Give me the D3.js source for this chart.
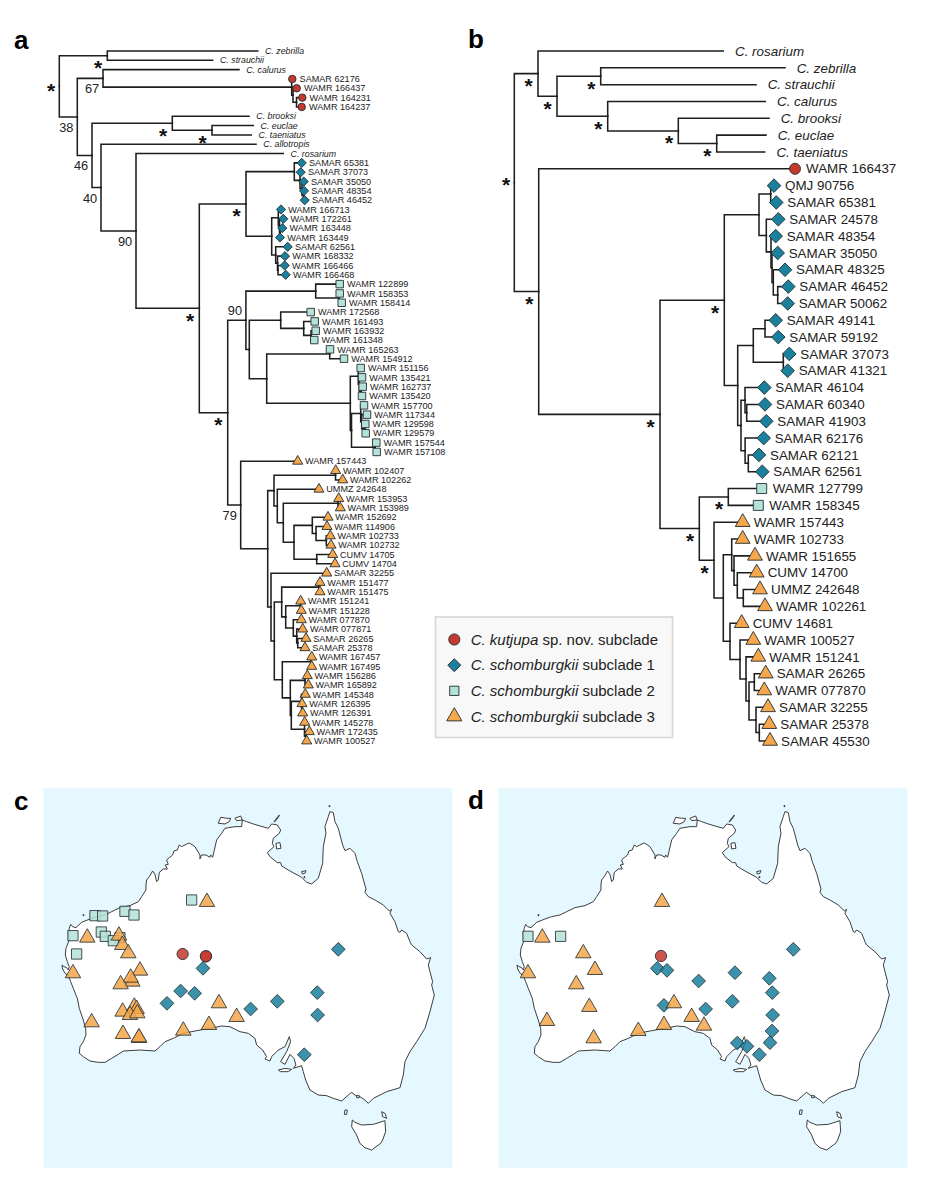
<!DOCTYPE html>
<html><head><meta charset="utf-8">
<script src="https://cdn.jsdelivr.net/npm/d3@7/dist/d3.min.js"></script>
<style>html,body{margin:0;padding:0;background:#fff}svg{display:block}text{font-family:"Liberation Sans",Arial,sans-serif;fill:#222}</style>
</head><body><svg id="fig" width="927" height="1200" viewBox="0 0 927 1200"></svg>
<script>
// ---------- DATA ----------
const labelsA = ["C. zebrilla","C. strauchii","C. calurus","SAMAR 62176","WAMR 166437","WAMR 164231","WAMR 164237","C. brooksi","C. euclae","C. taeniatus","C. allotropis","C. rosarium",
"SAMAR 65381","SAMAR 37073","SAMAR 35050","SAMAR 48354","SAMAR 46452","WAMR 166713","WAMR 172261","WAMR 163448","WAMR 163449","SAMAR 62561","WAMR 168332","WAMR 166466","WAMR 166468",
"WAMR 122899","WAMR 158353","WAMR 158414","WAMR 172568","WAMR 161493","WAMR 163932","WAMR 161348","WAMR 165263","WAMR 154912","WAMR 151156","WAMR 135421","WAMR 162737","WAMR 135420","WAMR 157700","WAMR 117344","WAMR 129598","WAMR 129579","WAMR 157544","WAMR 157108",
"WAMR 157443","WAMR 102407","WAMR 102262","UMMZ 242648","WAMR 153953","WAMR 153989","WAMR 152692","WAMR 114906","WAMR 102733","WAMR 102732","CUMV 14705","CUMV 14704","SAMAR 32255","WAMR 151477","WAMR 151475","WAMR 151241","WAMR 151228","WAMR 077870","WAMR 077871","SAMAR 26265","SAMAR 25378","WAMR 167457","WAMR 167495","WAMR 156286","WAMR 165892","WAMR 145348","WAMR 126395","WAMR 126391","WAMR 145278","WAMR 172435","WAMR 100527"];
const groupsA = "---kkkk-----1111111111111222222222222222222233333333333333333333333333333333".split("");
// nested clades: [node depth, child, child]; a bare number is a tip with its depth
const treeA = [59.3,
 [107.3,257.7,212.7],
 [77.3,
  [103,239,[291.7,292.3,[293,296.7,[296.5,302.3,301.7]]]],
  [92,
   [172.3,249,[212,253.3,251.3]],
   [101,256,
    [136,283.3,
     [199.3,
      [246,
       [294.3,301.7,[300,300.7,[302,303.7,[303.5,304,304.7]]]],
       [271.7,[278.3,281,[279.5,283.3,[280,282.3,280]]],[275.7,287.7,[277.5,285,[278,284.7,285.7]]]]],
      [227.7,
       [245.9,
        [315.7,339.7,[339,339.7,341.7]],
        [249.3,
         [280.7,310.7,[303.7,314.7,[311,315.7,314.3]]],
         [266.7,[329.7,330,344],
          [350.3,[358.3,360.7,[359.3,362,[361,362.7,362]]],
           [351.5,[360.7,364,[361.7,367,[365,365.3,365.7]]],[375,376.3,376.7]]]]]],
       [240.7,297.7,
        [267.7,
         [274,[335.5,335.7,342.7],
          [277.3,319,[283.3,[338,338.7,340.3],
           [294,[312.3,328,[316,327,[326.3,330.3,331]]],[316.7,332.7,335]]]]],
         [271,326.7,
          [274.3,
           [281.7,[319,320,320],[285.7,[300.5,300.7,301.3],[293.3,301.3,[296.7,302.7,[297.7,306,305]]]]],
           [282.3,[311,311.7,311.7],
            [290.3,[305,307.3,308.3],
             [291.3,[301.5,305.3,[302,302,302.7]],[304.5,304.7,[306,309.3,306.7]]]]]]]]]]]]]]]];
const supportA = [[59.3,"*"],[107.3,"*"],[172.3,"*"],[212,"*"],[246,"*"],[199.3,"*"],[227.7,"*"],[103,"67"],[77.3,"38"],[92,"46"],[101,"40"],[136,"90"],[245.9,"90"],[240.7,"79"]];

const labelsB = ["C. rosarium","C. zebrilla","C. strauchii","C. calurus","C. brooksi","C. euclae","C. taeniatus","WAMR 166437",
"QMJ 90756","SAMAR 65381","SAMAR 24578","SAMAR 48354","SAMAR 35050","SAMAR 48325","SAMAR 46452","SAMAR 50062","SAMAR 49141","SAMAR 59192","SAMAR 37073","SAMAR 41321","SAMAR 46104","SAMAR 60340","SAMAR 41903","SAMAR 62176","SAMAR 62121","SAMAR 62561",
"WAMR 127799","WAMR 158345","WAMR 157443","WAMR 102733","WAMR 151655","CUMV 14700","UMMZ 242648","WAMR 102261","CUMV 14681","WAMR 100527","WAMR 151241","SAMAR 26265","WAMR 077870","SAMAR 32255","SAMAR 25378","SAMAR 45530"];
const groupsB = "-------k1111111111111111112233333333333333".split("");
const treeB = [514.3,
 [538,723.3,[557,[600.7,785,756],[607.7,765.3,[678.3,769,[716.7,766,764.7]]]]],
 [538.7,795,
  [660,
   [724.3,
    [759,[770.7,774,776.3],[766.3,778.3,[771,775.7,[772,777.7,[773.3,785,[777.7,788.3,787.7]]]]]],
    [737.7,[753.3,[765,775.7,778.3],[783.3,789.3,787.7]],
     [741,[745,764.3,[746.7,765,766.3]],[745.1,763.7,[748.3,759,762.3]]]]],
   [699.3,[728.3,761.7,758.3],
    [714,742.7,
     [723.3,
      [731.7,742.7,[734,755,[737.3,756.7,[743.3,760,765]]]],
      [730,741.7,[740,753.3,[746,758.3,[749,[754.3,765.7,764.3],[756,768,[759.3,769.3,770]]]]]]]]]]]];
const supportB = [514.3,538,600.7,557,607.7,678.3,716.7,538.7,724.3,660,728.3,699.3,714];

const legendLabels = [["C. kutjupa"," sp. nov. subclade"],["C. schomburgkii"," subclade 1"],["C. schomburgkii"," subclade 2"],["C. schomburgkii"," subclade 3"]];
const legendGroups = ["k","1","2","3"];

// map grid readings (easting, northing) shared by both maps
const coast = [[318,315],[305,335],[295,350],[270,362],[240,368],[215,380],[195,390],[170,395],[150,402],[125,412],[108,428],[98,425],[92,418],[88,430],[85,445],[88,465],[78,490],[76,510],[82,530],[88,545],[85,555],[80,548],[72,545],[66,540],[68,552],[76,566],[85,570],[92,590],[100,610],[112,640],[118,670],[130,705],[137,730],[138,750],[130,770],[120,785],[118,805],[130,815],[150,828],[175,832],[195,832],[215,820],[235,808],[250,798],[300,795],[345,798],[360,785],[375,770],[400,760],[430,745],[470,737],[510,730],[545,723],[570,725],[600,740],[625,745],[645,760],[650,780],[668,795],[680,815],[675,822],[690,828],[695,815],[715,795],[735,785],[748,755],[752,770],[740,800],[722,830],[735,838],[750,808],[762,820],[768,840],[760,850],[785,842],[790,860],[797,885],[810,915],[835,930],[860,932],[880,940],[905,948],[925,930],[935,922],[948,932],[960,935],[975,945],[985,955],[1000,940],[1040,920],[1080,908],[1090,870],[1095,830],[1110,800],[1130,770],[1155,730],[1170,680],[1183,630],[1175,600],[1178,590],[1170,560],[1165,540],[1172,518],[1160,522],[1140,500],[1115,480],[1110,470],[1100,445],[1085,435],[1080,442],[1075,440],[1065,410],[1050,385],[1055,373],[1048,378],[1030,360],[1005,345],[985,335],[975,322],[978,312],[965,265],[952,230],[945,205],[930,190],[915,197],[908,180],[895,130],[885,110],[880,83],[870,80],[865,95],[855,125],[858,145],[850,185],[848,235],[835,280],[815,297],[800,292],[785,277],[750,258],[725,243],[722,233],[712,233],[690,215],[682,203],[702,185],[697,175],[700,160],[718,145],[722,135],[712,120],[695,117],[685,130],[660,123],[640,117],[620,110],[607,105],[605,125],[585,125],[555,130],[545,145],[530,165],[522,200],[518,217],[512,210],[510,217],[498,210],[485,210],[480,222],[480,210],[465,185],[450,175],[445,175],[435,180],[425,185],[418,180],[412,195],[402,198],[398,210],[388,218],[380,225],[385,238],[376,240],[382,252],[370,252],[358,262],[355,285],[350,290],[345,268],[338,258],[328,275],[320,285],[318,300]];
const islands = [
 [[535,115],[542,97],[560,100],[572,100],[568,110],[555,117]],
 [[585,100],[602,93],[607,105],[590,107]],
 [[702,110],[718,90],[716,96],[704,111]],
 [[708,175],[720,173],[723,190],[710,192]],
 [[785,260],[798,257],[795,265],[787,267]],
 [[715,855],[735,850],[755,853],[745,860],[722,860]],
 [[915,975],[922,975],[920,988],[913,988]],
 [[1025,980],[1035,985],[1040,1000],[1028,995]],
 [[937,1005],[945,1012],[965,1020],[1000,1018],[1035,1007],[1037,1040],[1028,1065],[1022,1075],[1015,1080],[995,1095],[975,1088],[960,1075],[950,1050],[935,1025]],
 [[129,389],[132,389],[132,392],[129,392]],[[867,62],[870,62],[870,65],[867,65]],[[792,275],[795,275],[795,278],[792,278]],[[950,932],[958,932],[958,938],[950,938]]];
const sitesC_2 = [[455,345],[165,392],[188,393],[255,379],[282,390],[99,452],[184,441],[196,454],[240,458],[220,467],[110,507]];
const sitesC_3 = [[237,452],[501,351],[142,458],[247,480],[265,505],[99,565],[300,557],[277,590],[272,578],[242,598],[248,680],[283,665],[290,672],[270,690],[292,685],[155,712],[249,747],[297,759],[297,757],[430,737],[507,720],[537,655],[590,696]];
const sitesC_k = [[428,507],[498,514],[498,514]];
const sitesC_1 = [[489,550],[895,493],[422,618],[464,625],[381,655],[712,649],[832,623],[632,672],[833,690],[793,809]];
const sitesD_2 = [[99,454],[197,454]];
const sitesD_3 = [[501,351],[142,458],[265,505],[99,565],[300,555],[244,598],[283,666],[156,708],[296,760],[430,738],[507,720],[537,655],[590,696],[627,722]];
const sitesD_k = [[498,513]];
const sitesD_1 = [[487,550],[516,556],[611,588],[720,563],[823,580],[832,623],[507,661],[632,672],[712,649],[833,690],[831,738],[825,773],[727,774],[756,784],[793,809],[895,493]];

// ---------- STYLE ----------
const colour = {k:"#c5392e","1":"#1b809c","2":"#b4e2d9","3":"#f6a64b"};
const shape = {k:d3.symbolCircle,"1":d3.symbolDiamond2,"2":d3.symbolSquare,"3":d3.symbolTriangle};
const svg = d3.select("#fig");
const sym = (g,s)=>d3.symbol().type(shape[g]).size(s[g])();

function drawTree(tree, labels, groups, opt){
  const root = d3.hierarchy(tree, d=>Array.isArray(d)?d.slice(1):null);
  const depth = d=>Array.isArray(d.data)?d.data[0]:d.data;
  const leaves = root.leaves();
  const x = d3.scaleLinear().domain([0,927]).range([0,927]);
  const y = d3.scaleLinear().domain([0,leaves.length-1]).range([opt.top,opt.bottom]);
  leaves.forEach((n,i)=>{n.row=i;n.py=y(i);n.label=labels[i];n.group=groups[i]});
  root.eachAfter(n=>{ if(n.children) n.py=(n.children[0].py+n.children[n.children.length-1].py)/2; n.px=x(depth(n)); });
  const g = svg.append("g");
  const line = d3.line();
  g.selectAll("path.branch").data(root.descendants().filter(n=>n.parent)).join("path")
    .attr("class","branch").attr("fill","none").attr("stroke","#1e1e1e").attr("stroke-width",opt.lw)
    .attr("stroke-linecap","square")
    .attr("d",n=>line([[n.parent.px,n.parent.py],[n.parent.px,n.py],[n.px,n.py]]));
  g.selectAll("path.tip").data(leaves.filter(n=>n.group!=="-")).join("path")
    .attr("class","tip").attr("d",n=>sym(n.group,opt.size))
    .attr("transform",n=>`translate(${n.px},${n.py})`)
    .attr("fill",n=>colour[n.group]).attr("stroke","#232e32").attr("stroke-width",.9);
  g.selectAll("text.lab").data(leaves).join("text").attr("class","lab")
    .attr("x",n=>n.px+(n.group==="-"?opt.gapI:opt.gap)).attr("y",n=>n.py).attr("dy",".35em")
    .attr("font-size",n=>n.group==="-"?opt.fsI:opt.fs)
    .attr("font-style",n=>n.group==="-"?"italic":"normal").text(n=>n.label);
  const byDepth = new Map(root.descendants().filter(n=>n.children).map(n=>[depth(n),n]));
  opt.support.forEach(([k,t])=>{
    const n = byDepth.get(k); if(!n) return;
    const isRoot = n===root;
    if(t==="*"){
      g.append("text").attr("text-anchor","middle").attr("font-size",21).attr("font-weight","bold").style("fill","#111")
       .attr("x",n.px+(isRoot?-8.3:-9.3)).attr("y",n.py+(isRoot?opt.rootDy:9.5)+9.9).text("*");
    } else {
      const above = opt.above.includes(k);
      g.append("text").attr("text-anchor","middle").attr("font-size",12.8).attr("dy",".35em")
       .attr("x",n.px-11).attr("y",n.py+(above?-9.5:10.5)).text(t);
    }
  });
}
drawTree(treeA,labelsA,groupsA,{top:51,bottom:741,lw:1.55,gap:7.3,gapI:7.3,fs:9.1,fsI:8.8,support:supportA,above:[245.9],rootDy:2,
  size:{k:44,"1":54,"2":56,"3":44}});
drawTree(treeB,labelsB,groupsB,{top:51,bottom:741,lw:1.55,gap:11,gapI:11.7,fs:13.4,fsI:13.4,support:supportB.map(k=>[k,"*"]),above:[],rootDy:0,
  size:{k:95,"1":118,"2":100,"3":95}});

// panel letters
[["a",14,49],["b",468,48],["c",14,810],["d",468,809]].forEach(([t,x,y])=>
  svg.append("text").attr("x",x).attr("y",y).attr("font-size",26).attr("font-weight","bold").style("fill","#000").text(t));

// legend
const leg = svg.append("g");
leg.append("rect").attr("x",435.5).attr("y",617).attr("width",237).attr("height",120.5)
  .attr("fill","#f8f8f8").attr("stroke","#d6d6d6").attr("stroke-width",1.6);
const legY = d3.scalePoint().domain(legendGroups).range([639.5,716.5]);
const legSize = {k:98,"1":108,"2":86,"3":100};
legendGroups.forEach((g,i)=>{
  leg.append("path").attr("d",sym(g,legSize)).attr("transform",`translate(454.3,${legY(g)})`)
    .attr("fill",colour[g]).attr("stroke","#232e32").attr("stroke-width",.9);
  const t = leg.append("text").attr("x",470.7).attr("y",legY(g)).attr("dy",".35em").attr("font-size",15);
  t.append("tspan").attr("font-style","italic").text(legendLabels[i][0]);
  t.append("tspan").text(legendLabels[i][1]);
});

// maps
function drawMap(x0, sites){
  const g = svg.append("g");
  const w = 409, t = 788.3, b = 1167.7;
  g.append("rect").attr("x",x0).attr("y",t).attr("width",w).attr("height",b-t).attr("fill","#e5f7ff");
  const sx = d3.scaleLinear().domain([10,1237]).range([x0,x0+w]);
  const sy = d3.scaleLinear().domain([10,1148]).range([t,b]);
  const line = d3.line().x(d=>sx(d[0])).y(d=>sy(d[1])).curve(d3.curveLinearClosed);
  [coast,...islands].forEach(r=>g.append("path").attr("d",line(r)).attr("fill","#fff").attr("stroke","#333").attr("stroke-width",.95).attr("stroke-linejoin","round"));
  const size = {k:100,"1":120,"2":105,"3":104};
  sites.forEach(([grp,pts])=>{
    g.selectAll(null).data(pts).join("path").attr("d",sym(grp,size))
     .attr("transform",d=>`translate(${sx(d[0])},${sy(d[1])})`)
     .attr("fill",colour[grp]).attr("fill-opacity",.86).attr("stroke","#263236").attr("stroke-width",.85);
  });
}
drawMap(43.3,[["1",sitesC_1],["k",sitesC_k],["2",sitesC_2],["3",sitesC_3]]);
drawMap(498.3,[["1",sitesD_1],["k",sitesD_k],["2",sitesD_2],["3",sitesD_3]]);
</script></body></html>
